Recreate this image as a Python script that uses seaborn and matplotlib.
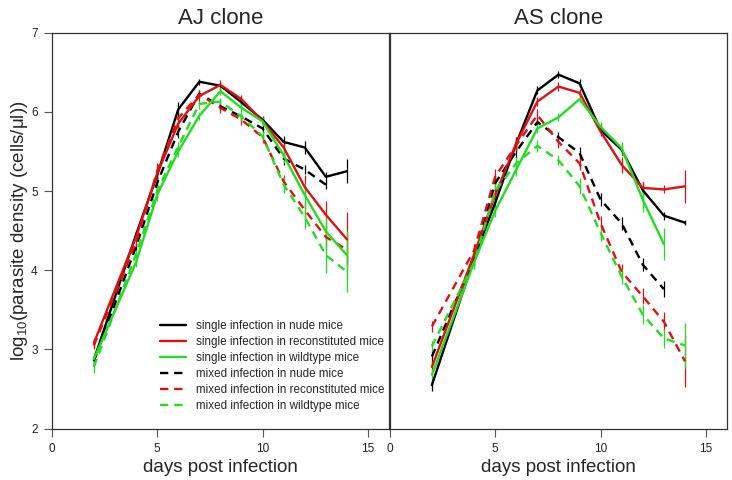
import numpy as np
import pandas as pd
import seaborn as sns
import matplotlib.pyplot as plt
from matplotlib.lines import Line2D

nan = np.nan

# days of sampling
days = [2, 4, 5, 6, 7, 8, 9, 10, 11, 12, 13, 14]

# AJ clone, mean log10 density
aj_single_nude = [2.87, 4.45, 5.20, 6.03, 6.38, 6.33, 6.12, 5.90, 5.62, 5.55, 5.18, 5.25]
aj_single_recon = [3.08, 4.42, 5.22, 5.85, 6.20, 6.34, 6.16, 5.88, 5.55, 5.05, 4.70, 4.39]
aj_single_wild = [2.88, 4.10, 4.95, 5.50, 5.95, 6.26, 6.05, 5.88, 5.45, 4.95, 4.49, 4.19]
aj_mixed_nude = [2.85, 4.30, 5.10, 5.75, 6.23, 6.07, 5.94, 5.79, 5.41, 5.27, 5.08, nan]
aj_mixed_recon = [3.05, 4.35, 5.25, 5.92, 6.22, 6.05, 5.90, 5.68, 5.12, 4.76, 4.42, 4.26]
aj_mixed_wild = [2.78, 4.20, 5.00, 5.56, 6.10, 6.13, 5.94, 5.69, 5.08, 4.67, 4.19, 3.98]

# AJ clone, standard errors
aj_single_nude_se = [0.05, 0.05, 0.08, 0.10, 0.04, 0.05, 0.04, 0.05, 0.07, 0.08, 0.06, 0.15]
aj_single_recon_se = [0.06, 0.06, 0.08, 0.08, 0.06, 0.06, 0.05, 0.05, 0.08, 0.15, 0.18, 0.34]
aj_single_wild_se = [0.06, 0.06, 0.07, 0.07, 0.05, 0.05, 0.06, 0.06, 0.10, 0.15, 0.20, 0.30]
aj_mixed_nude_se = [0.05, 0.05, 0.08, 0.08, 0.05, 0.05, 0.05, 0.06, 0.08, 0.06, 0.06, nan]
aj_mixed_recon_se = [0.05, 0.06, 0.10, 0.08, 0.05, 0.06, 0.06, 0.07, 0.08, 0.12, 0.15, 0.20]
aj_mixed_wild_se = [0.08, 0.06, 0.08, 0.06, 0.06, 0.05, 0.06, 0.07, 0.10, 0.15, 0.22, 0.25]

# AS clone, mean log10 density
as_single_nude = [2.55, 4.15, 4.85, 5.60, 6.27, 6.47, 6.36, 5.77, 5.52, 5.01, 4.69, 4.60]
as_single_recon = [2.78, 4.20, 4.95, 5.60, 6.13, 6.32, 6.24, 5.75, 5.33, 5.04, 5.02, 5.06]
as_single_wild = [2.68, 4.10, 4.75, 5.27, 5.79, 5.93, 6.16, 5.81, 5.54, 4.89, 4.33, nan]
as_mixed_nude = [2.91, 4.15, 5.10, 5.50, 5.87, 5.68, 5.48, 4.89, 4.59, 4.07, 3.76, nan]
as_mixed_recon = [3.29, 4.25, 5.18, 5.58, 5.96, 5.62, 5.35, 4.59, 3.98, 3.67, 3.35, 2.85]
as_mixed_wild = [3.04, 4.10, 5.00, 5.35, 5.57, 5.39, 5.06, 4.47, 3.92, 3.44, 3.14, 3.05]

# AS clone, standard errors
as_single_nude_se = [0.07, 0.08, 0.08, 0.08, 0.05, 0.04, 0.05, 0.06, 0.06, 0.10, 0.05, 0.03]
as_single_recon_se = [0.06, 0.07, 0.08, 0.08, 0.06, 0.06, 0.05, 0.06, 0.10, 0.08, 0.05, 0.21]
as_single_wild_se = [0.07, 0.08, 0.08, 0.08, 0.06, 0.05, 0.04, 0.06, 0.08, 0.15, 0.20, nan]
as_mixed_nude_se = [0.07, 0.08, 0.10, 0.08, 0.05, 0.06, 0.08, 0.08, 0.08, 0.08, 0.10, nan]
as_mixed_recon_se = [0.07, 0.08, 0.10, 0.08, 0.08, 0.08, 0.08, 0.10, 0.10, 0.10, 0.12, 0.33]
as_mixed_wild_se = [0.07, 0.08, 0.10, 0.08, 0.08, 0.06, 0.10, 0.10, 0.10, 0.12, 0.12, 0.28]

clones = ['AJ clone', 'AS clone']
hosts = ['nude', 'reconstituted', 'wildtype']
infections = ['single', 'mixed']
host_colors = {'nude': 'black', 'reconstituted': '#e01010', 'wildtype': '#22dd22'}

series = {
    ('AJ clone', 'single', 'nude'): (aj_single_nude, aj_single_nude_se),
    ('AJ clone', 'single', 'reconstituted'): (aj_single_recon, aj_single_recon_se),
    ('AJ clone', 'single', 'wildtype'): (aj_single_wild, aj_single_wild_se),
    ('AJ clone', 'mixed', 'nude'): (aj_mixed_nude, aj_mixed_nude_se),
    ('AJ clone', 'mixed', 'reconstituted'): (aj_mixed_recon, aj_mixed_recon_se),
    ('AJ clone', 'mixed', 'wildtype'): (aj_mixed_wild, aj_mixed_wild_se),
    ('AS clone', 'single', 'nude'): (as_single_nude, as_single_nude_se),
    ('AS clone', 'single', 'reconstituted'): (as_single_recon, as_single_recon_se),
    ('AS clone', 'single', 'wildtype'): (as_single_wild, as_single_wild_se),
    ('AS clone', 'mixed', 'nude'): (as_mixed_nude, as_mixed_nude_se),
    ('AS clone', 'mixed', 'reconstituted'): (as_mixed_recon, as_mixed_recon_se),
    ('AS clone', 'mixed', 'wildtype'): (as_mixed_wild, as_mixed_wild_se),
}

# long table for seaborn
rows = []
for (clone, inf, host), (vals, ses) in series.items():
    for d, v, s in zip(days, vals, ses):
        rows.append({'clone': clone, 'infection': inf, 'host': host,
                     'day': d, 'value': v, 'se': s})
df = pd.DataFrame(rows).dropna()

sns.set_theme(style='ticks')
plt.rcParams['font.family'] = ['Liberation Sans', 'DejaVu Sans']
plt.rcParams['mathtext.fontset'] = 'custom'
plt.rcParams['mathtext.rm'] = 'Liberation Sans'
plt.rcParams['mathtext.it'] = 'Liberation Sans:italic'

fig = plt.figure(figsize=(7.32, 4.8), dpi=100)
ax1 = fig.add_axes([0.0706, 0.107, 0.461, 0.825])
ax2 = fig.add_axes([0.5324, 0.107, 0.461, 0.825], sharey=ax1)

for ax, clone in zip([ax1, ax2], clones):
    sub = df[df['clone'] == clone]
    # error bars
    for (inf, host), g in sub.groupby(['infection', 'host']):
        ax.vlines(g['day'], g['value'] - g['se'], g['value'] + g['se'],
                  color=host_colors[host], lw=0.9, zorder=2)
    sns.lineplot(data=sub, x='day', y='value', hue='host', style='infection',
                 hue_order=hosts, style_order=infections, palette=host_colors,
                 dashes={'single': '', 'mixed': (3.5, 2.5)}, estimator=None,
                 sort=True, lw=1.7, legend=False, ax=ax, zorder=3)
    ax.set_xlim(0, 16)
    ax.set_ylim(2, 7)
    ax.set_xticks([0, 5, 10, 15])
    ax.set_title(clone, fontsize=16, pad=6)
    ax.set_xlabel('days post infection', fontsize=13.5, labelpad=3)
    ax.set_ylabel('')
    for sp in ax.spines.values():
        sp.set_visible(True)
        sp.set_color('#333333')
        sp.set_linewidth(0.9)
    ax.tick_params(labelsize=8.5, length=6, width=0.8, color='#555555',
                   labelcolor='#222222', pad=4)

ax1.set_yticks([2, 3, 4, 5, 6, 7])
ax1.set_ylabel(r'log$_{10}$(parasite density (cells/μl))', fontsize=13.5, labelpad=1)
ax2.tick_params(axis='y', left=False, labelleft=False)

# legend in the left panel
handles = []
labels = []
for inf in infections:
    for host in hosts:
        handles.append(Line2D([], [], color=host_colors[host], lw=1.7,
                              ls='-' if inf == 'single' else (0, (3.5, 2.5))))
        labels.append(f'{inf} infection in {host} mice')
ax1.legend(handles, labels, loc='upper left', bbox_to_anchor=(0.29, 0.30),
           frameon=False, fontsize=8.4, handlelength=2.2, handletextpad=0.9,
           labelspacing=0.33)

fig.savefig('out.png', dpi=100)
